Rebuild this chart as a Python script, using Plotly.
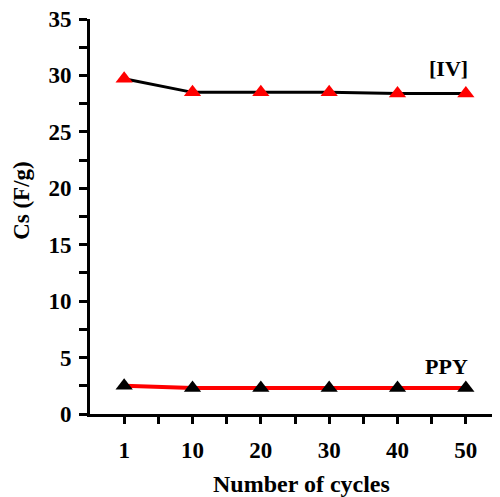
import plotly.graph_objects as go

cycles = ["1", "10", "20", "30", "40", "50"]
iv_values = [29.7, 28.5, 28.5, 28.5, 28.4, 28.4]
ppy_values = [2.5, 2.3, 2.3, 2.3, 2.3, 2.3]
y_ticks = [0, 5, 10, 15, 20, 25, 30, 35]

xpos = list(range(len(cycles)))
FONT = "Liberation Serif"

fig = go.Figure()
fig.add_trace(go.Scatter(
    x=xpos, y=iv_values, mode="lines+markers", name="[IV]",
    line=dict(color="black", width=3),
    marker=dict(symbol="triangle-up", size=15, color="#ff0000"),
))
fig.add_trace(go.Scatter(
    x=xpos, y=ppy_values, mode="lines+markers", name="PPY",
    line=dict(color="#ff0000", width=4),
    marker=dict(symbol="triangle-up", size=15, color="black"),
))

# x ticks at every half position, labels only at integer positions
xt_vals, xt_text = [], []
for i, c in enumerate(cycles):
    xt_vals.append(i); xt_text.append(c)
    xt_vals.append(i + 0.5); xt_text.append("")

bold = lambda s: dict(family=FONT, size=s, color="black", weight="bold")

# page body has an 8px margin, so the figure is sized/offset to compensate
fig.update_layout(
    width=492, height=489,
    margin=dict(l=82, r=0, t=11, b=83),
    paper_bgcolor="white", plot_bgcolor="white",
    showlegend=False,
    font=dict(family=FONT, color="black"),
    xaxis=dict(
        range=[-0.5, 5.5], tickmode="array", tickvals=xt_vals, ticktext=xt_text,
        showgrid=False, zeroline=False, automargin=False,
        showline=True, linecolor="black", linewidth=3,
        ticks="outside", ticklen=7, tickwidth=3, tickcolor="black",
        ticklabelstandoff=6, ticklabeloverflow="allow",
        tickfont=bold(23),
    ),
    yaxis=dict(
        range=[0, 35], tickmode="array", tickvals=y_ticks,
        showgrid=False, zeroline=False, automargin=False,
        showline=True, linecolor="black", linewidth=3,
        ticks="outside", ticklen=8, tickwidth=3, tickcolor="black",
        ticklabelstandoff=3, ticklabeloverflow="allow",
        minor=dict(ticks="outside", dtick=2.5, tick0=0, ticklen=8, tickwidth=3, tickcolor="black"),
        tickfont=bold(23),
    ),
    annotations=[
        dict(x=0.515, y=-0.177, xref="paper", yref="paper", text="Number of cycles",
             xanchor="center", yanchor="middle", showarrow=False, font=bold(24)),
        dict(x=-0.166, y=0.542, xref="paper", yref="paper", text="Cs (F/g)",
             xanchor="center", yanchor="middle", showarrow=False, textangle=-90, font=bold(23)),
        dict(x=4.75, y=30.6, xref="x", yref="y", text="[IV]", showarrow=False,
             font=bold(22)),
        dict(x=4.72, y=4.2, xref="x", yref="y", text="PPY", showarrow=False,
             font=bold(22)),
    ],
)

fig.write_html("out.html")
